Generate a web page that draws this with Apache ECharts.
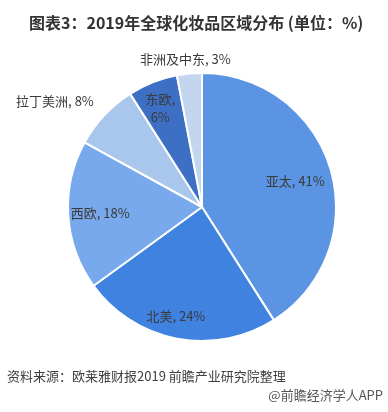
<!DOCTYPE html>
<html>
<head>
<meta charset="utf-8">
<script src="https://cdn.jsdelivr.net/npm/echarts@6/dist/echarts.min.js"></script>
<style>
html,body{margin:0;padding:0;background:#fff;}
#chart{width:388px;height:412px;}
</style>
</head>
<body>
<div id="chart"></div>
<script>
// Data
const regions = ['亚太', '北美', '西欧', '拉丁美洲', '东欧', '非洲及中东'];
const shares = [41, 24, 18, 8, 6, 3];

// Styling (not data)
const sliceColors = ['#5b94e3', '#3f82e0', '#78a9ec', '#a9c6ec', '#3d6fc4', '#c3d6ef'];
const labelShift = [[26, -6], [-13, 40], [-32, 2], [-96, -58], [-16, -34], [-10, -78]];
const twoLine = [false, false, false, false, true, false];

const chart = echarts.init(document.getElementById('chart'), null, {renderer: 'canvas'});
const FONT = '"Noto Sans CJK SC", "Microsoft YaHei", sans-serif';

chart.setOption({
  animation: false,
  backgroundColor: '#ffffff',
  title: [{
    text: '图表3：2019年全球化妆品区域分布 (单位：%)',
    left: 24, top: 10,
    textStyle: {fontFamily: FONT, fontSize: 16, fontWeight: 'bold', color: '#333333'}
  }],
  graphic: [
    {type: 'text', left: 7, top: 370,
     style: {text: '资料来源：欧莱雅财报2019 前瞻产业研究院整理', font: '13px ' + FONT, fill: '#404040'}},
    {type: 'text', right: 5, top: 389,
     style: {text: '@前瞻经济学人APP', font: '13px ' + FONT, fill: '#555555'}}
  ],
  series: [{
    type: 'pie',
    center: [202, 207],
    radius: [0, 134],
    startAngle: 90,
    clockwise: true,
    avoidLabelOverlap: false,
    itemStyle: {borderColor: '#ffffff', borderWidth: 2},
    label: {
      show: true,
      position: 'inside',
      fontFamily: FONT,
      fontSize: 13,
      color: '#3a3a3a',
      lineHeight: 18,
      formatter: function (p) {
        return twoLine[p.dataIndex] ? p.name + ',\n' + p.value + '%' : p.name + ', ' + p.value + '%';
      }
    },
    labelLine: {show: false},
    labelLayout: function (p) {
      const s = labelShift[p.dataIndex];
      return {dx: s[0], dy: s[1]};
    },
    emphasis: {disabled: true},
    data: regions.map(function (r, i) {
      return {name: r, value: shares[i], itemStyle: {color: sliceColors[i]}};
    })
  }]
});
</script>
</body>
</html>
